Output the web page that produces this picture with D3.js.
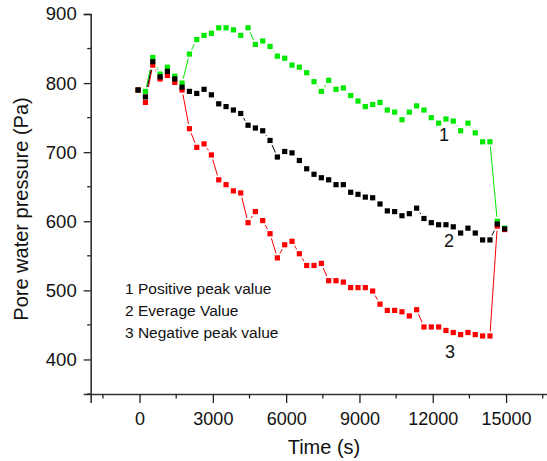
<!DOCTYPE html>
<html><head><meta charset="utf-8">
<script src="https://cdn.jsdelivr.net/npm/d3@7/dist/d3.min.js"></script>
<style>
html,body{margin:0;padding:0;background:#fff;}
svg text{font-family:"Liberation Sans",Arial,Helvetica,sans-serif;fill:#111;}
</style></head>
<body>
<svg id="chart" width="547" height="461"></svg>
<script>
const timeS = [-60,240,540,840,1140,1440,1740,2040,2340,2640,2940,3240,3540,3840,4140,4440,4740,5040,5340,5640,5940,6240,6540,6840,7140,7440,7740,8040,8340,8640,8940,9240,9540,9840,10140,10440,10740,11040,11340,11640,11940,12240,12540,12840,13140,13440,13740,14040,14340,14640,14940];
const positivePeak = [790,788,837,813,823,810,800,842,863,869,872,880,880,877,869,880,856,861,853,839,836,826,823,815,802,788,804,791,793,782,774,766,769,772,761,758,747,758,767,761,750,742,748,745,731,742,728,715,715,600,590];
const averageValue = [790,780,831,809,817,806,794,788,785,791,783,770,766,761,756,739,735,731,717,693,701,699,688,676,668,663,660,653,653,642,639,635,634,625,615,614,608,611,619,604,598,595,595,592,583,590,583,573,573,596,589];
const negativePeak = [790,772,826,806,811,801,790,734,707,712,696,660,653,644,641,598,614,601,582,547,566,571,553,536,536,539,514,514,512,504,504,504,499,480,471,471,469,463,472,447,447,447,442,439,436,439,436,434,434,593,588];
const xTicks = [0,3000,6000,9000,12000,15000];
const yTicks = [400,500,600,700,800,900];
const legendLines = ["1 Positive peak value","2 Everage Value","3 Negative peak value"];
const curveLabels = ["1","2","3"];

const svg = d3.select("#chart");
const x = d3.scaleLinear().domain([-2000,16700]).range([90.7,547.6]);
const y = d3.scaleLinear().domain([350,900]).range([394,14]);

const series = [
  {name:"1", values:positivePeak, color:"#00ea00"},
  {name:"3", values:negativePeak, color:"#ff0000"},
  {name:"2", values:averageValue, color:"#000000"}
];

// axes
const xMinor = d3.range(-1500,16600,1500).filter(d=>xTicks.indexOf(d)<0);
const yMinor = d3.range(350,901,50).filter(d=>yTicks.indexOf(d)<0);

const xAxis = d3.axisBottom(x).tickValues(xTicks).tickSize(9).tickPadding(6).tickFormat(d3.format("d"));
const gx = svg.append("g").attr("transform",`translate(0,${y(350)})`).call(xAxis);
gx.selectAll("text").attr("font-size",18).attr("dy","0.75em").attr("y",17);
gx.append("g").selectAll("line").data(xMinor).join("line")
  .attr("x1",d=>x(d)).attr("x2",d=>x(d)).attr("y1",0).attr("y2",4.5).attr("stroke","#222").attr("stroke-width",1.3);

const yAxis = d3.axisLeft(y).tickValues(yTicks).tickSize(7).tickPadding(7).tickFormat(d3.format("d"));
const gy = svg.append("g").attr("transform",`translate(${x(-2000)},0)`).call(yAxis);
gy.selectAll("text").attr("font-size",18.5);
gy.append("g").selectAll("line").data(yMinor).join("line")
  .attr("x1",-3.5).attr("x2",0).attr("y1",d=>y(d)).attr("y2",d=>y(d)).attr("stroke","#222").attr("stroke-width",1.3);

[gx,gy].forEach(g=>{
  g.select(".domain").attr("stroke","#333").attr("stroke-width",1.6);
  g.selectAll(".tick line").attr("stroke","#222").attr("stroke-width",1.3);
  g.selectAll("text").attr("fill","#111").attr("font-family","Liberation Sans, Arial, sans-serif");
});

// axis titles
svg.append("text").attr("x",324).attr("y",454).attr("text-anchor","middle").attr("font-size",20).text("Time (s)");
svg.append("text").attr("transform","translate(28,209) rotate(-90)").attr("text-anchor","middle").attr("font-size",20).text("Pore water pressure (Pa)");

// lines
const line = d3.line().x((d,i)=>x(timeS[i])).y(d=>y(d));
series.forEach(s=>{
  svg.append("path").datum(s.values).attr("d",line).attr("fill","none").attr("stroke",s.color).attr("stroke-width",1);
});
// white halos around markers (line gaps)
series.forEach(s=>{
  svg.append("g").selectAll("rect").data(s.values).join("rect")
    .attr("x",(d,i)=>x(timeS[i])-4.5).attr("y",d=>y(d)-4.5).attr("width",9).attr("height",9).attr("fill","#fff");
});
// markers
series.forEach(s=>{
  svg.append("g").selectAll("rect").data(s.values).join("rect")
    .attr("x",(d,i)=>x(timeS[i])-2.6).attr("y",d=>y(d)-2.6).attr("width",5.2).attr("height",5.2).attr("fill",s.color);
});

// curve labels
svg.append("text").attr("x",444).attr("y",141).attr("text-anchor","middle").attr("font-size",18).text(curveLabels[0]);
svg.append("text").attr("x",449).attr("y",247).attr("text-anchor","middle").attr("font-size",18).text(curveLabels[1]);
svg.append("text").attr("x",450).attr("y",358).attr("text-anchor","middle").attr("font-size",18).text(curveLabels[2]);

// legend text
svg.append("g").selectAll("text").data(legendLines).join("text")
  .attr("x",125).attr("y",(d,i)=>294+i*22).attr("font-size",15.5).text(d=>d);
</script>
</body></html>
